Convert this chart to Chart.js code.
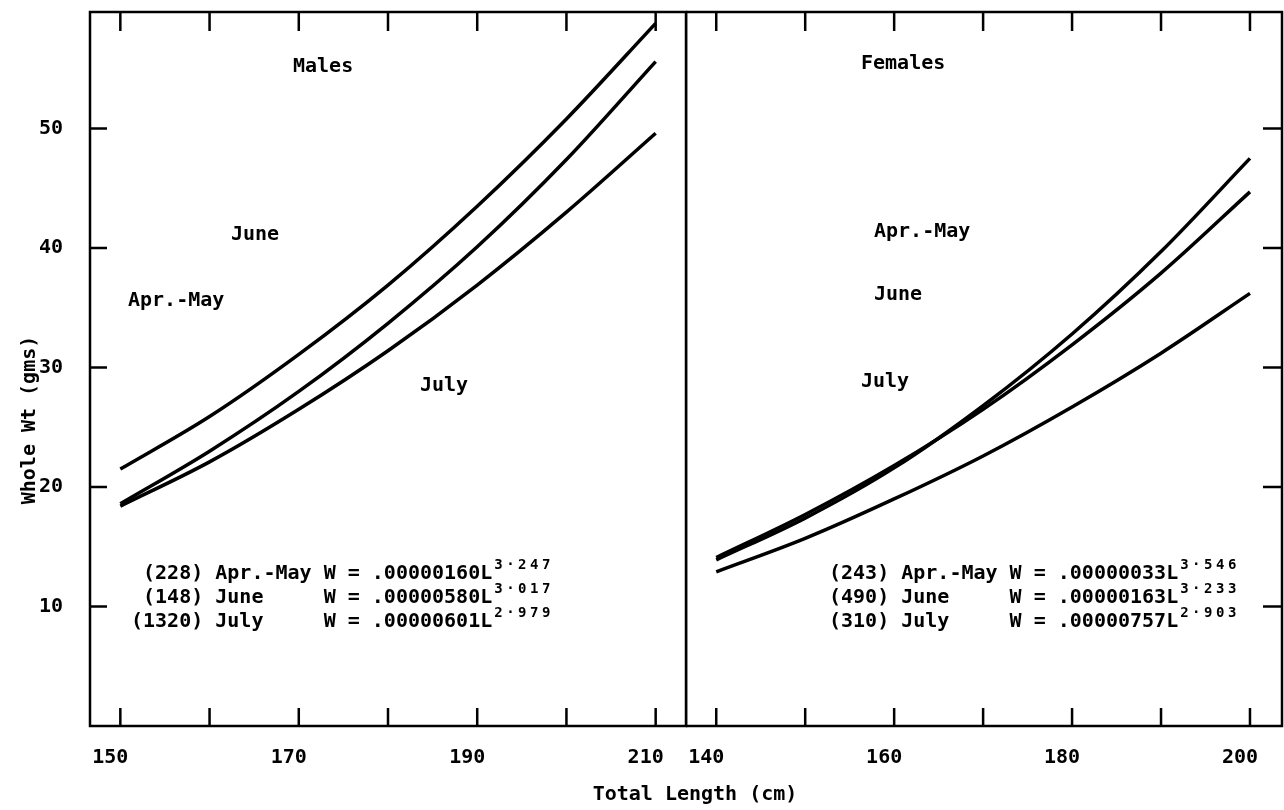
<!DOCTYPE html>
<html>
<head>
<meta charset="utf-8">
<script src="https://cdn.jsdelivr.net/npm/chart.js@4.4.0/dist/chart.umd.min.js"></script>
<style>
    html, body { margin: 0; padding: 0; background: #fff; }
    #wrap { position: relative; width: 1284px; height: 810px; }
    canvas { position: absolute; top: 0; }
    #males { left: 0; width: 1284px; height: 810px; }
    #females { left: 686px; width: 598px; height: 810px; }
</style>
</head>
<body>
<div id="wrap">
    <canvas id="males" width="1284" height="810"></canvas>
    <canvas id="females" width="598" height="810"></canvas>
</div>
<script>
// Males: total length (cm) vs whole weight
const maleLength = [150, 160, 170, 180, 190, 200, 210];
const maleAprMay = [18.6, 23.0, 28.0, 33.7, 40.1, 47.4, 55.6];
const maleJune = [21.5, 25.9, 31.1, 36.9, 43.5, 50.8, 58.8];
const maleJuly = [18.4, 22.1, 26.5, 31.4, 36.9, 43.0, 49.6];

// Females
const femaleLength = [140, 150, 160, 170, 180, 190, 200];
const femaleAprMay = [13.9, 17.4, 21.6, 26.8, 32.8, 39.7, 47.5];
const femaleJune = [14.1, 17.7, 21.8, 26.5, 31.9, 37.9, 44.7];
const femaleJuly = [12.9, 15.7, 19.0, 22.6, 26.7, 31.2, 36.2];

// axis ticks
const maleTicks = [150, 160, 170, 180, 190, 200, 210];
const maleTickLabels = [150, 170, 190, 210];
const femaleTicks = [140, 150, 160, 170, 180, 190, 200];
const femaleTickLabels = [140, 160, 180, 200];
const weightTicks = [10, 20, 30, 40, 50];

// equation text
const maleEquations = [' (228) Apr.-May W = .00000160L', ' (148) June     W = .00000580L', '(1320) July     W = .00000601L'];
const maleExponents = ['3·247', '3·017', '2·979'];
const femaleEquations = ['(243) Apr.-May W = .00000033L', '(490) June     W = .00000163L', '(310) July     W = .00000757L'];
const femaleExponents = ['3·546', '3·233', '2·903'];

const FONT = '"DejaVu Sans Mono", monospace';

function toPoints(xs, ys) {
    return xs.map((x, i) => ({ x: x, y: ys[i] }));
}

function curve(xs, ys) {
    return {
        data: toPoints(xs, ys),
        borderColor: '#000',
        borderWidth: 3.5,
        pointRadius: 0,
        fill: false,
        cubicInterpolationMode: 'monotone'
    };
}

function setText(ctx, size) {
    ctx.font = 'bold ' + size + 'px ' + FONT;
    ctx.fillStyle = '#000';
    ctx.textBaseline = 'alphabetic';
    ctx.textAlign = 'left';
}

// 枠と内向きの目盛り
function drawFrame(chart, xTicks, side) {
    const ctx = chart.ctx;
    const a = chart.chartArea;
    const xs = chart.scales.x;
    const ys = chart.scales.y;
    ctx.save();
    ctx.strokeStyle = '#000';
    ctx.lineWidth = 2.5;
    ctx.strokeRect(a.left, a.top, a.right - a.left, a.bottom - a.top);
    ctx.beginPath();
    xTicks.forEach(v => {
        const px = xs.getPixelForValue(v);
        ctx.moveTo(px, a.bottom);
        ctx.lineTo(px, a.bottom - 18);
        ctx.moveTo(px, a.top);
        ctx.lineTo(px, a.top + 19);
    });
    weightTicks.forEach(v => {
        const py = ys.getPixelForValue(v);
        if (side === 'left') {
            ctx.moveTo(a.left, py);
            ctx.lineTo(a.left + 17, py);
        } else {
            ctx.moveTo(a.right, py);
            ctx.lineTo(a.right - 19, py);
        }
    });
    ctx.stroke();
    ctx.restore();
}

function drawEquations(ctx, lines, exps, x, ys) {
    lines.forEach((str, i) => {
        setText(ctx, 20);
        ctx.fillText(str, x, ys[i]);
        const w = ctx.measureText(str).width;
        setText(ctx, 14);
        ctx.letterSpacing = '3.5px';
        ctx.fillText(exps[i], x + w + 2, ys[i] - 10);
        ctx.letterSpacing = '0px';
    });
}

const maleText = {
    id: 'maleText',
    afterDraw(chart) {
        const ctx = chart.ctx;
        drawFrame(chart, maleTicks, 'left');
        ctx.save();
        setText(ctx, 20);
        ctx.fillText('Males', 293, 72);
        ctx.fillText('June', 231, 240);
        ctx.fillText('Apr.-May', 128, 306);
        ctx.fillText('July', 420, 391);
        drawEquations(ctx, maleEquations, maleExponents, 131, [579, 603, 627]);

        // 軸タイトル
        setText(ctx, 20);
        ctx.textAlign = 'center';
        ctx.fillText('Total Length (cm)', 695, 800);
        ctx.translate(30, 420);
        ctx.rotate(-Math.PI / 2);
        ctx.textBaseline = 'middle';
        ctx.fillText('Whole Wt (gms)', 0, 0);
        ctx.restore();
    }
};

const femaleText = {
    id: 'femaleText',
    afterDraw(chart) {
        const ctx = chart.ctx;
        drawFrame(chart, femaleTicks, 'right');
        ctx.save();
        setText(ctx, 20);
        // canvas starts at x=686
        ctx.fillText('Females', 861 - 686, 69);
        ctx.fillText('Apr.-May', 874 - 686, 237);
        ctx.fillText('June', 874 - 686, 300);
        ctx.fillText('July', 861 - 686, 387);
        drawEquations(ctx, femaleEquations, femaleExponents, 829 - 686, [579, 603, 627]);
        ctx.restore();
    }
};

function xScale(min, max, ticks, labels) {
    return {
        type: 'linear',
        min: min,
        max: max,
        grid: { display: false },
        border: { display: false },
        afterBuildTicks: s => { s.ticks = ticks.map(v => ({ value: v })); },
        afterFit: s => {
            s.height = 84;
            s.paddingLeft = 0;
            s.paddingRight = 0;
        },
        ticks: {
            color: '#000',
            font: { family: FONT, size: 20, weight: 'bold' },
            padding: 12,
            labelOffset: -10,
            maxRotation: 0,
            autoSkip: false,
            callback: v => labels.includes(v) ? String(v) : ''
        }
    };
}

const common = {
    responsive: false,
    maintainAspectRatio: false,
    animation: false,
    events: [],
    plugins: { legend: { display: false }, tooltip: { enabled: false } }
};

new Chart(document.getElementById('males'), {
    type: 'line',
    data: {
        datasets: [
            curve(maleLength, maleJune),
            curve(maleLength, maleAprMay),
            curve(maleLength, maleJuly)
        ]
    },
    options: Object.assign({}, common, {
        layout: { padding: { top: 12, right: 598, left: 0, bottom: 0 } },
        scales: {
            x: xScale(146.6, 213.4, maleTicks, maleTickLabels),
            y: {
                type: 'linear',
                min: 0,
                max: 59.75,
                grid: { display: false },
                border: { display: false },
                afterBuildTicks: s => { s.ticks = weightTicks.map(v => ({ value: v })); },
                afterFit: s => {
                    s.width = 90;
                    s.paddingTop = 0;
                    s.paddingBottom = 0;
                },
                ticks: {
                    color: '#000',
                    font: { family: FONT, size: 20, weight: 'bold' },
                    padding: 19
                }
            }
        }
    }),
    plugins: [maleText]
});

new Chart(document.getElementById('females'), {
    type: 'line',
    data: {
        datasets: [
            curve(femaleLength, femaleAprMay),
            curve(femaleLength, femaleJune),
            curve(femaleLength, femaleJuly)
        ]
    },
    options: Object.assign({}, common, {
        layout: { padding: { top: 12, right: 2, left: 0, bottom: 0 } },
        scales: {
            x: xScale(136.6, 203.6, femaleTicks, femaleTickLabels),
            y: {
                type: 'linear',
                display: false,
                min: 0,
                max: 59.75
            }
        }
    }),
    plugins: [femaleText]
});
</script>
</body>
</html>
